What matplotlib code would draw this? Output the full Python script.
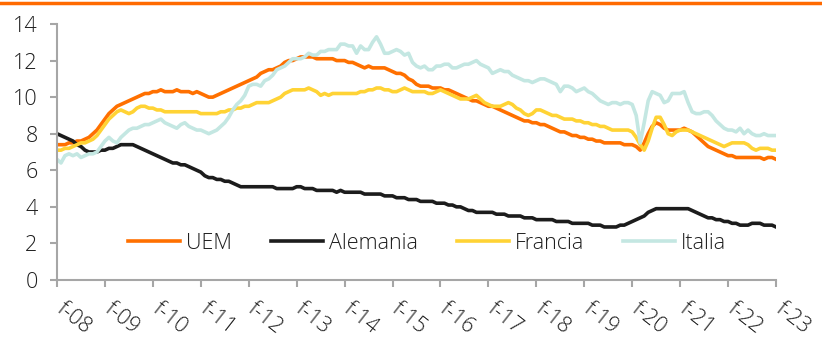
import matplotlib
matplotlib.use("Agg")
import matplotlib.pyplot as plt
from matplotlib.lines import Line2D
from matplotlib.transforms import ScaledTranslation

# tasa de paro mensual, feb-08 .. feb-23
uem = [7.4, 7.4, 7.4, 7.5, 7.5, 7.6, 7.6, 7.7, 7.8, 8.0, 8.2, 8.5,
       8.8, 9.1, 9.3, 9.5, 9.6, 9.7, 9.8, 9.9, 10.0, 10.1, 10.2, 10.2,
       10.3, 10.3, 10.4, 10.3, 10.3, 10.3, 10.4, 10.3, 10.3, 10.3, 10.2, 10.3,
       10.2, 10.1, 10.0, 10.0, 10.1, 10.2, 10.3, 10.4, 10.5, 10.6, 10.7, 10.8,
       10.9, 11.0, 11.1, 11.3, 11.4, 11.5, 11.5, 11.6, 11.7, 11.9, 12.0, 12.0,
       12.1, 12.2, 12.2, 12.2, 12.2, 12.1, 12.1, 12.1, 12.1, 12.1, 12.0, 12.0,
       12.0, 11.9, 11.9, 11.8, 11.7, 11.6, 11.7, 11.6, 11.6, 11.6, 11.6, 11.5,
       11.4, 11.3, 11.3, 11.2, 11.0, 10.9, 10.7, 10.6, 10.6, 10.6, 10.5, 10.5,
       10.5, 10.4, 10.4, 10.3, 10.2, 10.1, 10.0, 9.9, 9.8, 9.8, 9.7, 9.6,
       9.5, 9.5, 9.4, 9.3, 9.2, 9.1, 9.0, 8.9, 8.8, 8.7, 8.7, 8.6,
       8.6, 8.5, 8.5, 8.4, 8.3, 8.2, 8.1, 8.1, 8.0, 7.9, 7.9, 7.8,
       7.8, 7.7, 7.7, 7.6, 7.6, 7.5, 7.5, 7.5, 7.5, 7.5, 7.4, 7.4,
       7.4, 7.3, 7.1, 7.5, 8.0, 8.4, 8.6, 8.5, 8.3, 8.2, 8.2, 8.2,
       8.2, 8.3, 8.2, 8.1, 7.9, 7.7, 7.5, 7.3, 7.2, 7.1, 7.0, 6.9,
       6.8, 6.8, 6.7, 6.7, 6.7, 6.7, 6.7, 6.7, 6.7, 6.6, 6.7, 6.7,
       6.6]
alemania = [8.0, 7.9, 7.8, 7.7, 7.6, 7.4, 7.3, 7.1, 7.0, 7.0, 7.0, 7.1,
            7.1, 7.2, 7.2, 7.3, 7.4, 7.4, 7.4, 7.4, 7.3, 7.2, 7.1, 7.0,
            6.9, 6.8, 6.7, 6.6, 6.5, 6.4, 6.4, 6.3, 6.3, 6.2, 6.1, 6.0,
            5.9, 5.7, 5.6, 5.6, 5.5, 5.5, 5.4, 5.4, 5.3, 5.2, 5.1, 5.1,
            5.1, 5.1, 5.1, 5.1, 5.1, 5.1, 5.1, 5.0, 5.0, 5.0, 5.0, 5.0,
            5.1, 5.1, 5.0, 5.0, 5.0, 4.9, 4.9, 4.9, 4.9, 4.9, 4.8, 4.9,
            4.8, 4.8, 4.8, 4.8, 4.8, 4.7, 4.7, 4.7, 4.7, 4.7, 4.6, 4.6,
            4.6, 4.5, 4.5, 4.5, 4.4, 4.4, 4.4, 4.3, 4.3, 4.3, 4.3, 4.2,
            4.2, 4.2, 4.1, 4.1, 4.0, 4.0, 3.9, 3.8, 3.8, 3.7, 3.7, 3.7,
            3.7, 3.7, 3.6, 3.6, 3.6, 3.5, 3.5, 3.5, 3.5, 3.4, 3.4, 3.4,
            3.3, 3.3, 3.3, 3.3, 3.3, 3.2, 3.2, 3.2, 3.2, 3.1, 3.1, 3.1,
            3.1, 3.1, 3.0, 3.0, 3.0, 2.9, 2.9, 2.9, 2.9, 3.0, 3.0, 3.1,
            3.2, 3.3, 3.4, 3.5, 3.7, 3.8, 3.9, 3.9, 3.9, 3.9, 3.9, 3.9,
            3.9, 3.9, 3.9, 3.8, 3.7, 3.6, 3.5, 3.4, 3.4, 3.3, 3.3, 3.2,
            3.2, 3.1, 3.1, 3.0, 3.0, 3.0, 3.1, 3.1, 3.1, 3.0, 3.0, 3.0,
            2.9]
francia = [7.1, 7.1, 7.2, 7.2, 7.3, 7.4, 7.5, 7.5, 7.6, 7.7, 7.9, 8.2,
           8.5, 8.8, 9.0, 9.2, 9.3, 9.2, 9.1, 9.2, 9.4, 9.5, 9.5, 9.4,
           9.4, 9.3, 9.3, 9.2, 9.2, 9.2, 9.2, 9.2, 9.2, 9.2, 9.2, 9.2,
           9.1, 9.1, 9.1, 9.1, 9.1, 9.2, 9.2, 9.3, 9.3, 9.4, 9.4, 9.5,
           9.5, 9.6, 9.7, 9.7, 9.7, 9.7, 9.8, 9.9, 10.0, 10.2, 10.3, 10.4,
           10.4, 10.4, 10.4, 10.5, 10.4, 10.3, 10.1, 10.2, 10.1, 10.2, 10.2, 10.2,
           10.2, 10.2, 10.2, 10.2, 10.3, 10.3, 10.4, 10.4, 10.5, 10.5, 10.4, 10.4,
           10.3, 10.3, 10.4, 10.5, 10.4, 10.3, 10.3, 10.3, 10.3, 10.2, 10.2, 10.3,
           10.4, 10.3, 10.2, 10.1, 10.0, 9.9, 9.9, 9.9, 10.0, 10.1, 9.9, 9.7,
           9.6, 9.5, 9.5, 9.5, 9.6, 9.7, 9.6, 9.4, 9.3, 9.1, 9.0, 9.1,
           9.3, 9.3, 9.2, 9.1, 9.0, 9.0, 8.9, 8.8, 8.8, 8.8, 8.7, 8.7,
           8.6, 8.6, 8.5, 8.5, 8.4, 8.4, 8.3, 8.2, 8.2, 8.2, 8.2, 8.2,
           8.1, 7.8, 7.4, 7.1, 7.6, 8.3, 8.9, 8.9, 8.5, 8.0, 7.9, 8.1,
           8.2, 8.2, 8.2, 8.1, 8.0, 7.9, 7.8, 7.7, 7.6, 7.5, 7.4, 7.3,
           7.4, 7.5, 7.5, 7.5, 7.5, 7.4, 7.2, 7.1, 7.2, 7.2, 7.2, 7.1,
           7.1]
italia = [6.6, 6.4, 6.8, 6.9, 6.8, 6.9, 6.7, 6.8, 6.9, 6.9, 7.0, 7.3,
          7.6, 7.8, 7.6, 7.5, 7.8, 8.0, 8.2, 8.3, 8.3, 8.4, 8.5, 8.5,
          8.6, 8.7, 8.8, 8.6, 8.5, 8.4, 8.3, 8.5, 8.6, 8.4, 8.3, 8.2,
          8.2, 8.1, 8.0, 8.1, 8.2, 8.4, 8.6, 8.9, 9.3, 9.6, 9.8, 10.1,
          10.6, 10.7, 10.7, 10.6, 10.9, 11.0, 11.2, 11.5, 11.6, 11.7, 11.9, 12.1,
          12.1, 12.1, 12.2, 12.4, 12.3, 12.3, 12.5, 12.5, 12.6, 12.6, 12.6, 12.9,
          12.9, 12.8, 12.8, 12.4, 12.8, 12.6, 12.6, 13.0, 13.3, 12.9, 12.4, 12.4,
          12.5, 12.6, 12.5, 12.3, 12.4, 11.9, 11.7, 11.6, 11.7, 11.5, 11.5, 11.7,
          11.7, 11.8, 11.8, 11.6, 11.6, 11.7, 11.8, 11.8, 11.9, 12.0, 11.8, 11.7,
          11.6, 11.3, 11.4, 11.5, 11.4, 11.4, 11.2, 11.1, 11.0, 10.9, 10.9, 10.8,
          10.9, 11.0, 11.0, 10.9, 10.8, 10.7, 10.3, 10.6, 10.6, 10.5, 10.3, 10.4,
          10.5, 10.3, 10.2, 10.0, 9.8, 9.7, 9.6, 9.7, 9.7, 9.6, 9.7, 9.7,
          9.6, 9.0, 7.5, 8.6, 9.8, 10.3, 10.2, 10.1, 9.7, 9.8, 10.2, 10.2,
          10.2, 10.3, 9.7, 9.2, 9.1, 9.1, 9.2, 9.2, 9.0, 8.7, 8.5, 8.3,
          8.2, 8.2, 8.1, 8.3, 8.0, 8.2, 8.0, 7.9, 7.9, 8.0, 7.9, 7.9,
          7.9]
labels_x = ["f-08", "f-09", "f-10", "f-11", "f-12", "f-13", "f-14", "f-15",
            "f-16", "f-17", "f-18", "f-19", "f-20", "f-21", "f-22", "f-23"]

plt.rcParams["font.family"] = ["Open Sans", "DejaVu Sans"]
plt.rcParams["font.weight"] = "light"
gris = "#a6a6a6"
texto = "#1f1f1f"

fig = plt.figure(figsize=(8.22, 3.41), dpi=100)
ax = fig.add_axes([57 / 822, 1 - 280 / 341, 719 / 822, 256 / 341])

meses = range(len(uem))
ax.plot(meses, uem, color="#ff7000", lw=2.6, label="UEM")
ax.plot(meses, alemania, color="#1c1c1c", lw=2.6, label="Alemania")
ax.plot(meses, francia, color="#ffd335", lw=2.6, label="Francia")
ax.plot(meses, italia, color="#c4e7e2", lw=2.6, label="Italia")

ax.set_xlim(0, 180)
ax.set_ylim(0, 14)
ax.set_yticks(range(0, 15, 2))
ax.set_xticks(range(0, 181, 12))
ax.set_xticklabels(labels_x, rotation=-38, ha="left", va="top",
                   rotation_mode="anchor")

for lado in ["top", "right"]:
    ax.spines[lado].set_visible(False)
for lado in ["left", "bottom"]:
    ax.spines[lado].set_color(gris)
    ax.spines[lado].set_linewidth(1.5)
ax.tick_params(axis="both", color=gris, width=1.5, length=5, labelsize=15.5)
ax.tick_params(axis="both", labelcolor=texto)
ax.tick_params(axis="y", pad=9)
ax.tick_params(axis="x", pad=8)

# desplaza las etiquetas del eje x hacia la derecha
desp = ScaledTranslation(6 / 72, 0, fig.dpi_scale_trans)
for lab in ax.get_xticklabels():
    lab.set_transform(lab.get_transform() + desp)

ley = ax.legend(loc="center", bbox_to_anchor=(0.515, 0.143), ncol=4,
                frameon=False, fontsize=15.5, handlelength=2.4,
                handletextpad=0.3, columnspacing=1.8)
for t in ley.get_texts():
    t.set_color(texto)

# raya naranja de cabecera
fig.add_artist(Line2D([0, 1], [1 - 3 / 341, 1 - 3 / 341],
                      transform=fig.transFigure, color="#ff6a00", lw=2.5))

fig.savefig("out.png", dpi=100)
